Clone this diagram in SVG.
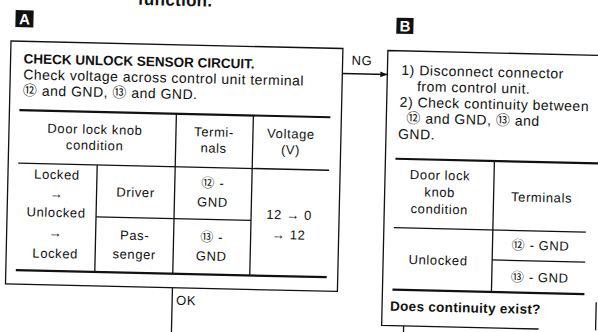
<svg xmlns="http://www.w3.org/2000/svg" width="598" height="332" viewBox="0 0 598 332">
<style>
  .t{font-family:"Liberation Sans","DejaVu Sans","Noto Sans CJK JP",sans-serif;font-size:14px;letter-spacing:0.5px;fill:#111}
  .c{font-family:"Liberation Sans","DejaVu Sans","Noto Sans CJK JP",sans-serif;font-size:13px;letter-spacing:0.6px;fill:#111;text-anchor:middle}
  .b{font-weight:bold}
  .ln{stroke:#111;stroke-width:1.3;fill:none}
  .thk{stroke:#111;stroke-width:2.2;fill:none}
  .lab{fill:#111}
  .labt{font-family:"Liberation Sans",sans-serif;font-weight:bold;font-size:15px;fill:#fff;text-anchor:middle}
</style>
<defs>
  <marker id="arr" viewBox="0 0 10 10" refX="10" refY="5" markerWidth="8" markerHeight="7" orient="auto" markerUnits="userSpaceOnUse">
    <path d="M0,1 L10,5 L0,9 z" fill="#111"/>
  </marker>
</defs>
<rect width="598" height="332" fill="#fff"/>
<g transform="rotate(1.3 12 41)">
  <text class="t b" x="137" y="2" style="font-size:17px;letter-spacing:0.3px">function.</text>

  <g id="label-a">
    <rect x="15" y="10" width="18" height="17" class="lab"/>
    <text x="24" y="24" class="labt">A</text>
  </g>

  <g id="node-a">
    <rect x="11" y="41" width="332" height="243" class="ln"/>
    <text class="t b" x="24" y="63" style="font-size:13.5px;letter-spacing:0">CHECK UNLOCK SENSOR CIRCUIT.</text>
    <text class="t" x="24" y="79">Check voltage across control unit terminal</text>
    <text class="t" x="24" y="95">⑫ and GND, ⑬ and GND.</text>
    <line x1="21" y1="110" x2="332" y2="110" class="thk"/>
    <line x1="21" y1="163" x2="332" y2="163" class="ln"/>
    <line x1="100" y1="215" x2="255" y2="215" class="ln"/>
    <line x1="21" y1="270" x2="332" y2="270" class="thk"/>
    <line x1="100" y1="163" x2="100" y2="270" class="ln"/>
    <line x1="178" y1="110" x2="178" y2="270" class="ln"/>
    <line x1="255" y1="110" x2="255" y2="270" class="ln"/>
    <text class="c" x="97" y="132">Door lock knob</text>
    <text class="c" x="97" y="148">condition</text>
    <text class="c" x="216" y="132">Termi-</text>
    <text class="c" x="216" y="148">nals</text>
    <text class="c" x="293" y="132">Voltage</text>
    <text class="c" x="293" y="148">(V)</text>
    <text class="c" x="60" y="178">Locked</text>
    <text class="c" x="60" y="197">→</text>
    <text class="c" x="60" y="216">Unlocked</text>
    <text class="c" x="60" y="236">→</text>
    <text class="c" x="60" y="257">Locked</text>
    <text class="c" x="139" y="194">Driver</text>
    <text class="c" x="139" y="237">Pas-</text>
    <text class="c" x="139" y="256">senger</text>
    <text class="c" x="216" y="183">⑫ -</text>
    <text class="c" x="216" y="202">GND</text>
    <text class="c" x="216" y="237">⑬ -</text>
    <text class="c" x="216" y="256">GND</text>
    <text class="c" x="293" y="213">12 → 0</text>
    <text class="c" x="293" y="233">→ 12</text>
  </g>

  <g id="label-b">
    <rect x="396" y="9" width="17" height="16" class="lab"/>
    <text x="404.5" y="22.5" class="labt">B</text>
  </g>

  <g id="node-b">
    <path d="M602,42 H388 V317 H545 M602,289 V317" class="ln"/>
    <text class="t" x="402" y="66">1) Disconnect connector</text>
    <text class="t" x="418" y="82">from control unit.</text>
    <text class="t" x="401" y="98">2) Check continuity between</text>
    <text class="t" x="408" y="114">⑫ and GND, ⑬ and</text>
    <text class="t" x="400" y="130">GND.</text>
    <line x1="398" y1="150" x2="602" y2="150" class="thk"/>
    <line x1="398" y1="219" x2="590" y2="219" class="ln"/>
    <line x1="497" y1="249" x2="590" y2="249" class="ln"/>
    <line x1="398" y1="281" x2="590" y2="281" class="thk"/>
    <line x1="497" y1="150" x2="497" y2="281" class="ln"/>
    <text class="c" x="443" y="170">Door lock</text>
    <text class="c" x="443" y="187">knob</text>
    <text class="c" x="443" y="204">condition</text>
    <text class="c" x="545" y="190">Terminals</text>
    <text class="c" x="443" y="255">Unlocked</text>
    <text class="c" x="545" y="238">⑫ - GND</text>
    <text class="c" x="545" y="270">⑬ - GND</text>
    <text class="t b" x="396" y="302" style="font-size:13.5px;letter-spacing:0.3px">Does continuity exist?</text>
  </g>

  <g id="connectors">
    <line x1="343" y1="66" x2="388" y2="66" class="ln" marker-end="url(#arr)"/>
    <text class="t" x="352" y="57" style="font-size:13px">NG</text>
    <line x1="178" y1="284" x2="178" y2="345" class="ln"/>
    <text class="t" x="182" y="301" style="font-size:13px">OK</text>
    <line x1="410" y1="317" x2="410" y2="345" class="ln"/>
  </g>
</g>
</svg>
